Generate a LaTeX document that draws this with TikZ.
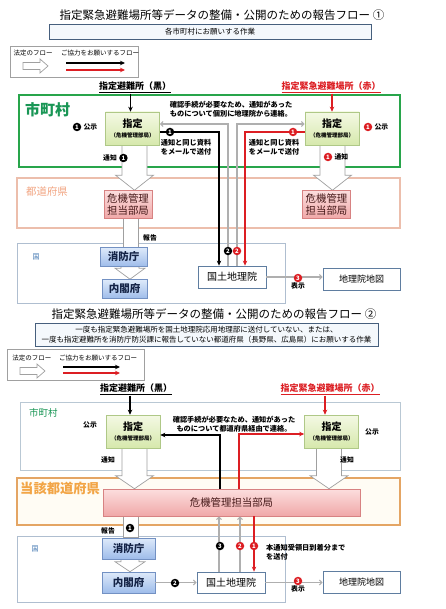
\documentclass[tikz,border=0pt]{standalone}
\usepackage{fontspec}
\setmainfont{Noto Sans CJK JP}
\usepackage{tikz}
\usetikzlibrary{arrows.meta,positioning,calc,backgrounds}
\pgfdeclarelayer{middle}
\pgfsetlayers{background,middle,main}
\definecolor{workline}{RGB}{70,95,125}
\definecolor{workfill}{RGB}{244,248,252}
\definecolor{leggray}{RGB}{160,160,160}
\definecolor{flowred}{RGB}{220,30,35}
\definecolor{linegray}{RGB}{175,175,175}
\definecolor{hollowgray}{RGB}{160,160,160}
\definecolor{muniframe}{RGB}{40,165,75}
\definecolor{munitext}{RGB}{25,150,85}
\definecolor{munithin}{RGB}{185,200,212}
\definecolor{shiteitop}{RGB}{244,249,228}
\definecolor{shiteibot}{RGB}{214,232,172}
\definecolor{shiteiline}{RGB}{175,200,135}
\definecolor{kikitop}{RGB}{252,222,222}
\definecolor{kikibot}{RGB}{240,168,168}
\definecolor{kikiline}{RGB}{215,130,130}
\definecolor{kikitext}{RGB}{70,25,25}
\definecolor{prefline}{RGB}{236,190,172}
\definecolor{preftext}{RGB}{242,165,130}
\definecolor{prefline2}{RGB}{228,165,100}
\definecolor{preffill2}{RGB}{255,252,244}
\definecolor{preftext2}{RGB}{242,165,70}
\definecolor{kuniline}{RGB}{175,190,208}
\definecolor{kunitext}{RGB}{60,115,175}
\definecolor{fdmtop}{RGB}{222,234,250}
\definecolor{fdmbot}{RGB}{158,188,234}
\definecolor{fdmline}{RGB}{115,145,195}
\definecolor{fdmtext}{RGB}{20,35,70}
\definecolor{gsiline}{RGB}{95,125,160}
\newcommand{\fsz}[2]{\fontsize{#1}{#2}\selectfont}
\tikzset{
  basebox/.style={rectangle,align=center,inner sep=1pt},
  titlenode/.style={font=\fsz{11.5}{13},inner sep=0pt},
  worknode/.style={basebox,draw=workline,fill=workfill,line width=0.9pt,font=\fsz{7.5}{10}},
  legnode/.style={basebox,draw=leggray,fill=white,line width=0.6pt},
  legtxt/.style={font=\fsz{6.5}{8},inner sep=0pt},
  hollowline/.style={draw=hollowgray,fill=white,line width=0.7pt},
  catnode/.style={font=\fsz{9}{11}\bfseries,inner sep=1pt},
  muniframeA/.style={rectangle,draw=muniframe,line width=1.8pt,fill=white},
  muniframeB/.style={rectangle,draw=munithin,line width=0.8pt,fill=white},
  prefframeA/.style={rectangle,draw=prefline,line width=1.1pt,fill=white},
  prefframeB/.style={rectangle,draw=prefline2,line width=1.8pt,fill=preffill2},
  kuniframe/.style={rectangle,draw=kuniline,line width=1pt,fill=white},
  munilabelA/.style={font=\fsz{15}{16}\bfseries,text=munitext,inner sep=0pt},
  munilabelB/.style={font=\fsz{9.5}{10},text=munitext,inner sep=0pt},
  preflabelA/.style={font=\fsz{10.4}{11},text=preftext,inner sep=0pt},
  preflabelB/.style={font=\fsz{13.3}{14}\bfseries,text=preftext2,inner sep=0pt},
  kunilabel/.style={font=\fsz{7}{8},text=kunitext,inner sep=0pt},
  shiteinode/.style={basebox,draw=shiteiline,line width=0.6pt,top color=shiteitop,bottom color=shiteibot,minimum width=54,minimum height=33,font=\fsz{10}{10}\bfseries},
  kikinode/.style={basebox,draw=kikiline,line width=0.6pt,top color=kikitop,bottom color=kikibot,text=kikitext,minimum width=48,minimum height=28,font=\fsz{10.4}{12}},
  fdmnode/.style={basebox,draw=fdmline,line width=0.6pt,top color=fdmtop,bottom color=fdmbot,text=fdmtext,minimum height=19,font=\fsz{10.5}{11}\bfseries},
  gsinode/.style={basebox,draw=gsiline,line width=0.8pt,fill=white,minimum width=68,minimum height=22,font=\fsz{10}{11}},
  mapnode/.style={basebox,draw=gsiline,line width=0.8pt,fill=white,minimum width=77,minimum height=22,font=\fsz{9}{10}},
  flowtxt/.style={font=\fsz{6.8}{8}\bfseries,inner sep=0.5pt},
  notetxt/.style={font=\fsz{7.2}{9}\bfseries,align=center,inner sep=0pt},
  numblk/.style={circle,fill=black,text=white,inner sep=0pt,minimum size=8.5,font=\fsz{6}{6}\bfseries},
  numred/.style={numblk,fill=flowred},
  blkarr/.style={-{Stealth[length=5pt,width=4.5pt]},line width=1.6pt,draw=black},
  redarr/.style={-{Stealth[length=5pt,width=4.5pt]},line width=1.4pt,draw=flowred},
  grayarr/.style={-{Straight Barb[length=2.5pt,width=5pt]},line width=1.1pt,draw=linegray}
}

\begin{document}
\begin{tikzpicture}[x=1pt,y=-1pt,
  hollowdn/.style n args={3}{hollowline,
    to path={($(\tikztostart)+(-#1,0)$) -- ($(\tikztostart|-\tikztotarget)+(-#1,-#3)$) -- ($(\tikztostart|-\tikztotarget)+(-#2,-#3)$) -- (\tikztostart|-\tikztotarget) -- ($(\tikztostart|-\tikztotarget)+(#2,-#3)$) -- ($(\tikztostart|-\tikztotarget)+(#1,-#3)$) -- ($(\tikztostart)+(#1,0)$) -- cycle}},
  shaftdn/.style={hollowline,
    to path={($(\tikztostart)+(-#1,0)$) rectangle ($(\tikztostart|-\tikztotarget)+(#1,0)$)}}
]
  \begin{pgfonlayer}{background}
    \fill[white] (0,0) rectangle (445,609);
  \end{pgfonlayer}
  \useasboundingbox (0,0) rectangle (445,609);

  % flow 1
  \node[titlenode] (title1) at (222,15) {指定緊急避難場所等データの整備・公開のための報告フロー ①};
  \node[worknode,minimum width=322,minimum height=15] (work1) at (210,31.5) {各市町村にお願いする作業};
  \node[legnode,minimum width=128,minimum height=31] (leg1) at (74,61.5) {};
  \node[legtxt] (law1) at (33,53) {法定のフロー};
  \node[legtxt] (coop1) at (100,53) {ご協力をお願いするフロー};
  \coordinate (lgH1) at (23,62.5);
  \coordinate (lgB1) at (66,63);
  \coordinate (lgR1) at (66,70);
  \draw[hollowline] (lgH1) -- ++(17,0) -- ++(0,-3.5) -- ++(8,7) -- ++(-8,7) -- ++(0,-3.5) -- ++(-17,0) -- cycle;
  \draw[blkarr] (lgB1) -- ++(59,0);
  \draw[redarr] (lgR1) -- ++(59,0);

  \node[catnode] (cat1L) at (135,87) {\underline{指定避難所（黒）}};
  \node[catnode,text=flowred] (cat1R) at (331,87) {\underline{指定緊急避難場所（赤）}};

  \begin{pgfonlayer}{background}
    \node[muniframeA,minimum width=381,minimum height=72] (muni1) at (209.5,131) {};
    \node[prefframeA,minimum width=383,minimum height=50] (pref1) at (208.5,203) {};
    \node[kuniframe,minimum width=268,minimum height=60] (kuni1) at (151,273) {};
  \end{pgfonlayer}
  \node[munilabelA,anchor=west] (munitxt1) at (25,110) {市町村};
  \node[preflabelA,anchor=west] (preftxt1) at (26,192) {都道府県};
  \node[kunilabel] (kunitxt1) at (36,257) {国};

  \node[shiteinode] (sL1) at (132.5,128.5) {指定\\{\fsz{5.5}{6}（危機管理部局）}};
  \node[shiteinode] (sR1) at (332,128.5) {指定\\{\fsz{5.5}{6}（危機管理部局）}};
  \node[kikinode] (kL1) at (128,204.5) {危機管理\\担当部局};
  \node[kikinode] (kR1) at (326.5,204.5) {危機管理\\担当部局};
  \node[fdmnode,minimum width=47] (fdm1) at (123.5,257) {消防庁};
  \node[fdmnode,minimum width=45] (cab1) at (124.5,289) {内閣府};
  \node[gsinode] (gsi1) at (232,277) {国土地理院};
  \node[mapnode] (map1) at (361.5,279) {地理院地図};

  \begin{pgfonlayer}{middle}
    \draw[hollowdn={12.5}{19}{15}] ([xshift=2pt]sL1.south) to (kL1.north);
    \draw[hollowdn={12.5}{19}{15}] ([xshift=0.5pt]sR1.south) to (kR1.north);
    \draw[shaftdn=7.5] ([xshift=2.5pt]kL1.south) to (fdm1.north);
    \draw[hollowdn={9}{15}{11}] ([xshift=6.5pt]fdm1.south) to (cab1.north);
  \end{pgfonlayer}

  \draw[blkarr] ([xshift=-2pt]sL1.north |- cat1L.south) -- ([xshift=-2pt]sL1.north);
  \draw[redarr] (sR1.north |- cat1R.south) -- (sR1.north);
  \draw[grayarr] ([xshift=-4pt]gsi1.north) |- ([yshift=4.5pt]sL1.east);
  \draw[grayarr] ([xshift=5pt]gsi1.north) |- ([yshift=4.5pt]sR1.west);
  \draw[blkarr] ([yshift=-3.5pt]sL1.east) -| ([xshift=-13pt]gsi1.north);
  \draw[redarr] ([yshift=-3.5pt]sR1.west) -| ([xshift=13pt]gsi1.north);
  \draw[grayarr] (gsi1.east) -- (gsi1.east -| map1.west);

  \node[numblk] (n1L) at (77,127) {1};
  \node[flowtxt,right=1.5pt of n1L] (pubL1) {公示};
  \node[flowtxt] (ntfL1) at (110,158) {通知};
  \node[numblk,right=1.5pt of ntfL1] (n1Lb) {1};
  \node[numred] (n1R) at (368,127) {1};
  \node[flowtxt,right=1.5pt of n1R] (pubR1) {公示};
  \node[numred] (n1Rb) at (328,157) {1};
  \node[flowtxt,right=1.5pt of n1Rb] (ntfR1) {通知};
  \node[notetxt] (conf1) at (231,109) {確認手続が必要なため、通知があった\\ものについて個別に地理院から連絡。};
  \node[notetxt] (mailL1) at (186,147.5) {通知と同じ資料\\をメールで送付};
  \node[notetxt] (mailR1) at (274,147.5) {通知と同じ資料\\をメールで送付};
  \node[numblk] (n1Lc) at (170,132) {1};
  \node[numred] (n1Rc) at (293,132) {1};
  \node[numblk] (n2L) at (228,251) {2};
  \node[numred] (n2R) at (237,251) {2};
  \node[flowtxt] (rep1) at (150,238) {報告};
  \node[numred] (n3a) at (298,278) {3};
  \node[flowtxt,below=0pt of n3a] (disp1) {表示};

  % flow 2
  \node[titlenode] (title2) at (214,314) {指定緊急避難場所等データの整備・公開のための報告フロー ②};
  \node[worknode,minimum width=343,minimum height=23] (work2) at (206.5,334.5) {一度も指定緊急避難場所を国土地理院応用地理部に送付していない、または、\\一度も指定避難所を消防庁防災課に報告していない都道府県（長野県、広島県）にお願いする作業};
  \node[legnode,minimum width=137,minimum height=31] (leg2) at (75.5,364.5) {};
  \node[legtxt] (law2) at (32,358) {法定のフロー};
  \node[legtxt] (coop2) at (98,358) {ご協力をお願いするフロー};
  \coordinate (lgH2) at (20,367.5);
  \coordinate (lgB2) at (63,367);
  \coordinate (lgR2) at (63,373);
  \draw[hollowline] (lgH2) -- ++(17,0) -- ++(0,-3.5) -- ++(8,7) -- ++(-8,7) -- ++(0,-3.5) -- ++(-17,0) -- cycle;
  \draw[blkarr] (lgB2) -- ++(57,0);
  \draw[redarr] (lgR2) -- ++(57,0);

  \node[catnode] (cat2L) at (136,389) {\underline{指定避難所（黒）}};
  \node[catnode,text=flowred] (cat2R) at (330,389) {\underline{指定緊急避難場所（赤）}};

  \begin{pgfonlayer}{background}
    \node[muniframeB,minimum width=380,minimum height=68] (muni2) at (210,436) {};
    \node[prefframeB,minimum width=383,minimum height=47] (pref2) at (208.5,501.5) {};
    \node[kuniframe,minimum width=268,minimum height=66] (kuni2) at (151,569) {};
  \end{pgfonlayer}
  \node[munilabelB,anchor=west] (munitxt2) at (29,413) {市町村};
  \node[preflabelB,anchor=west] (preftxt2) at (20,488) {当該都道府県};
  \node[kunilabel] (kunitxt2) at (35,549) {国};

  \node[shiteinode] (sL2) at (133,431.5) {指定\\{\fsz{5.5}{6}（危機管理部局）}};
  \node[shiteinode] (sR2) at (331.5,431.5) {指定\\{\fsz{5.5}{6}（危機管理部局）}};
  \node[kikinode,minimum width=257,minimum height=27] (kw2) at (231.5,502.5) {危機管理担当部局};
  \node[fdmnode,minimum width=53,minimum height=21] (fdm2) at (128.5,548.5) {消防庁};
  \node[fdmnode,minimum width=53,minimum height=21] (cab2) at (128.5,582.5) {内閣府};
  \node[gsinode,minimum height=21] (gsi2) at (231,582.5) {国土地理院};
  \node[mapnode] (map2) at (361.5,582) {地理院地図};

  \begin{pgfonlayer}{middle}
    \draw[hollowdn={12.5}{19}{13}] ([xshift=1.5pt]sL2.south) to (kw2.north);
    \draw[hollowdn={12.5}{19}{13}] ([xshift=-2.5pt]sR2.south) to (kw2.north);
    \draw[shaftdn=7.5] ([xshift=2pt]fdm2.north |- kw2.south) to (fdm2.north);
    \draw[hollowdn={9}{15}{10}] ([xshift=1.5pt]fdm2.south) to (cab2.north);
  \end{pgfonlayer}

  \draw[blkarr] ([xshift=-3pt]sL2.north |- cat2L.south) -- ([xshift=-3pt]sL2.north);
  \draw[redarr] ([xshift=-6.5pt]sR2.north |- cat2R.south) -- ([xshift=-6.5pt]sR2.north);
  \draw[blkarr] ([xshift=-11.5pt]kw2.north) |- ([yshift=-3.5pt]sL2.east);
  \draw[redarr] ([xshift=7.5pt]kw2.north) |- ([yshift=-2.5pt]sR2.west);
  \draw[grayarr] (cab2.east) -- (gsi2.west);
  \draw[grayarr] ([xshift=-12pt]gsi2.north) -- ([xshift=-12pt]gsi2.north |- kw2.south);
  \draw[grayarr] ([xshift=9pt]gsi2.north) -- ([xshift=9pt]gsi2.north |- kw2.south);
  \draw[redarr] ([xshift=23pt]gsi2.north |- kw2.south) -- ([xshift=23pt]gsi2.north);
  \draw[grayarr] (gsi2.east) -- (gsi2.east -| map2.west);

  \node[flowtxt] (pubL2) at (90,425) {公示};
  \node[flowtxt] (ntfL2) at (108,460) {通知};
  \node[flowtxt] (pubR2) at (372,432) {公示};
  \node[flowtxt] (ntfR2) at (347,460) {通知};
  \node[notetxt] (conf2) at (234,424) {確認手続が必要なため、通知があった\\ものについて都道府県経由で連絡。};
  \node[flowtxt] (rep2) at (108,531) {報告};
  \node[numblk] (n1b) at (130,528) {1};
  \node[numblk] (n2b) at (175,583) {2};
  \node[numblk] (n3b) at (220,546) {3};
  \node[numred] (n2c) at (240,546) {2};
  \node[numred] (n1c) at (254,546) {1};
  \node[notetxt,align=left,anchor=west] (recv2) at (266,552) {本通知受領日到着分まで\\を送付};
  \node[numred] (n3c) at (298,581) {3};
  \node[flowtxt,below=0pt of n3c] (disp2) {表示};
\end{tikzpicture}
\end{document}
